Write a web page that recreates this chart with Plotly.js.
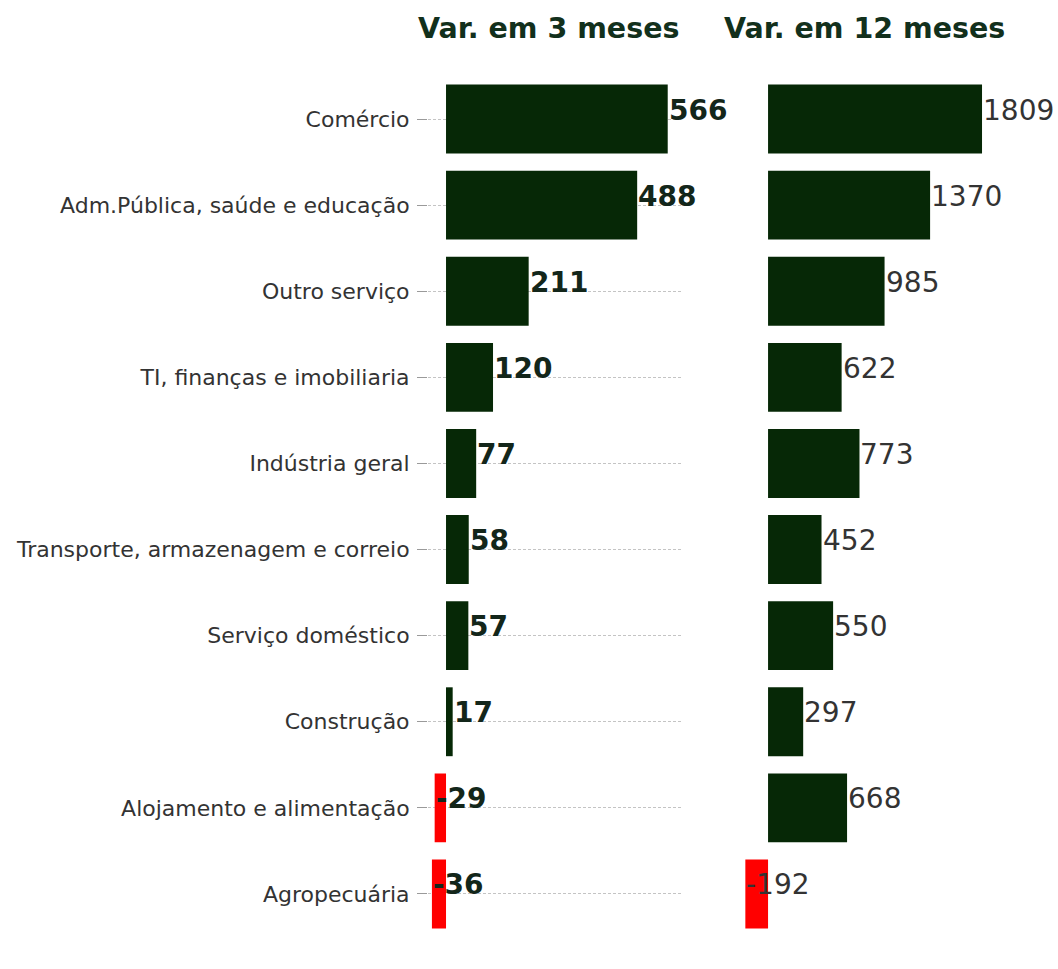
<!DOCTYPE html>
<html>
<head>
<meta charset="utf-8">
<script src="https://cdn.plot.ly/plotly-3.0.1.min.js"></script>
<style>html,body{margin:0;padding:0;background:#fff;}#chart{width:1058px;height:969px;}</style>
</head>
<body>
<div id="chart"></div>
<script>
const categories = ["Comércio","Adm.Pública, saúde e educação","Outro serviço","TI, finanças e imobiliaria","Indústria geral","Transporte, armazenagem e correio","Serviço doméstico","Construção","Alojamento e alimentação","Agropecuária"];
const var3m = [566, 488, 211, 120, 77, 58, 57, 17, -29, -36];
const var12m = [1809, 1370, 985, 622, 773, 452, 550, 297, 668, -192];
const titles = ["Var. em 3 meses", "Var. em 12 meses"];

const GREEN = "#062806", RED = "#ff0000";
const colorOf = v => v < 0 ? RED : GREEN;
const FONT = "DejaVu Sans";

const traces = [
  {type:"bar", orientation:"h", y:categories, x:var3m, xaxis:"x", yaxis:"y",
   width:0.8, marker:{color:var3m.map(colorOf), line:{width:0}}, hoverinfo:"x+y"},
  {type:"bar", orientation:"h", y:categories, x:var12m, xaxis:"x2", yaxis:"y2",
   width:0.8, marker:{color:var12m.map(colorOf), line:{width:0}}, hoverinfo:"x+y"}
];

const annotations = [];
var3m.forEach((v,i)=>annotations.push({xref:"x", yref:"y", x:v, y:categories[i], text:String(v),
  showarrow:false, xanchor:"left", yanchor:"middle", xshift:-1, yshift:9,
  font:{family:FONT, size:28, color:"#13261a", weight:"bold"}}));
var12m.forEach((v,i)=>annotations.push({xref:"x2", yref:"y2", x:v, y:categories[i], text:String(v),
  showarrow:false, xanchor:"left", yanchor:"middle", xshift:-1, yshift:9,
  font:{family:FONT, size:28, color:"#333333"}}));
annotations.push({xref:"x domain", yref:"paper", x:0.4745, y:1.0557, text:titles[0], showarrow:false,
  xanchor:"center", yanchor:"middle", font:{family:FONT, size:28.5, color:"#12301c", weight:"bold"}});
annotations.push({xref:"x2 domain", yref:"paper", x:0.477, y:1.0557, text:titles[1], showarrow:false,
  xanchor:"center", yanchor:"middle", font:{family:FONT, size:28.5, color:"#12301c", weight:"bold"}});

const layout = {
  width:1058, height:969,
  margin:{l:428, r:58, t:76, b:32},
  paper_bgcolor:"#ffffff", plot_bgcolor:"#ffffff",
  showlegend:false,
  font:{family:FONT},
  xaxis:{domain:[0,0.4458], range:[-46,605], showgrid:false, zeroline:false, showticklabels:false, ticks:"", showline:false},
  xaxis2:{domain:[0.5455,1], range:[-237,1961], showgrid:false, zeroline:false, showticklabels:false, ticks:"", showline:false},
  yaxis:{type:"category", range:[9.5,-0.5], showgrid:true, gridcolor:"#c4c4c4", griddash:"3px,2px", gridwidth:1,
    ticks:"outside", ticklen:10, tickcolor:"#9a9a9a", tickwidth:1, ticklabelstandoff:3, zeroline:false, showline:false,
    tickfont:{family:FONT, size:22, color:"#333333"}, automargin:false},
  yaxis2:{type:"category", anchor:"x2", range:[9.5,-0.5], showgrid:false, showticklabels:false, ticks:"",
    zeroline:false, showline:false},
  annotations:annotations
};

Plotly.newPlot("chart", traces, layout, {displayModeBar:false, staticPlot:true});
</script>
</body>
</html>
